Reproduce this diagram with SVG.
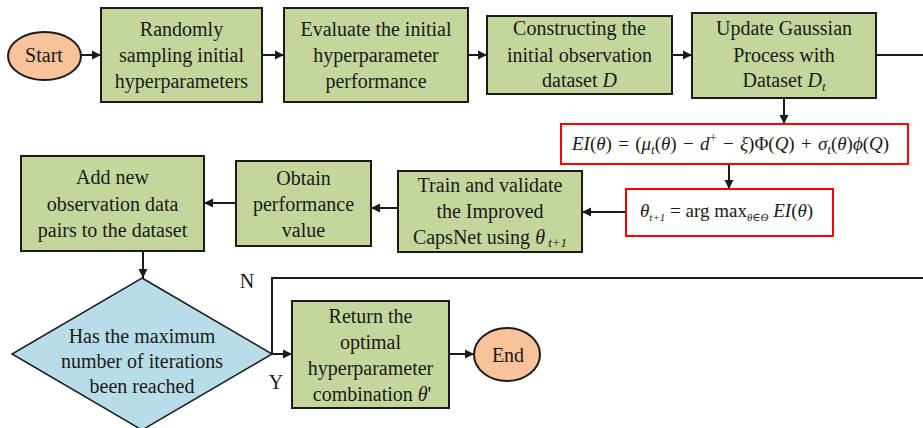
<svg xmlns="http://www.w3.org/2000/svg" width="923" height="428" viewBox="0 0 923 428">
  <style>
    text { font-family: "Liberation Serif", "DejaVu Serif", serif; font-size: 20px; fill: #1a1a1a; text-anchor: middle; }
    .box { fill: #c4d69c; stroke: #1a1a1a; stroke-width: 2; }
    .term { fill: #f8c39a; stroke: #1a1a1a; stroke-width: 2; }
    .dec { fill: #b8dde8; stroke: #1a1a1a; stroke-width: 1.5; }
    .eq { fill: #ffffff; stroke: #ff0000; stroke-width: 2; }
    .conn { fill: none; stroke: #1a1a1a; stroke-width: 2; }
    .arr { marker-end: url(#head); }
    .it { font-style: italic; }
    .sub { font-size: 13px; font-style: italic; }
    .small { font-size: 11px; font-style: italic; }
    .eqt { font-size: 19px; text-anchor: start; }
  </style>
  <defs>
    <marker id="head" markerUnits="userSpaceOnUse" markerWidth="10" markerHeight="10" refX="9" refY="5" orient="auto">
      <path d="M0,0.5 L9,5 L0,9.5 z" fill="#1a1a1a"/>
    </marker>
  </defs>

  <!-- connectors -->
  <g id="connectors">
    <path class="conn arr" d="M81,55 H101"/>
    <path class="conn arr" d="M262,55 H284"/>
    <path class="conn arr" d="M468,55 H487"/>
    <path class="conn arr" d="M672,55 H692"/>
    <path class="conn" d="M876,55 H923"/>
    <path class="conn arr" d="M784,98 V124"/>
    <path class="conn arr" d="M729,164 V189"/>
    <path class="conn arr" d="M626,212 H582"/>
    <path class="conn arr" d="M398,208 H371"/>
    <path class="conn arr" d="M236,203 H204"/>
    <path class="conn arr" d="M143,251 V278"/>
    <path class="conn" d="M272,354 V278 H923"/>
    <path class="conn arr" d="M272,354 H292"/>
    <path class="conn arr" d="M449,354 H474"/>
    <text x="247" y="288">N</text>
    <text x="276" y="389">Y</text>
  </g>

  <g id="start">
    <ellipse class="term" cx="44.5" cy="56" rx="36.5" ry="24"/>
    <text x="44" y="62">Start</text>
  </g>

  <g id="sample">
    <rect class="box" x="101" y="8" width="161" height="94"/>
    <text x="181.5" y="36">Randomly</text>
    <text x="181.5" y="62">sampling initial</text>
    <text x="181.5" y="88">hyperparameters</text>
  </g>

  <g id="evaluate">
    <rect class="box" x="284" y="8" width="184" height="94"/>
    <text x="376" y="36">Evaluate the initial</text>
    <text x="376" y="62">hyperparameter</text>
    <text x="376" y="88">performance</text>
  </g>

  <g id="construct">
    <rect class="box" x="487" y="16" width="185" height="78"/>
    <text x="579.5" y="35">Constructing the</text>
    <text x="579.5" y="62">initial observation</text>
    <text x="579.5" y="87">dataset <tspan class="it">D</tspan></text>
  </g>

  <g id="update">
    <rect class="box" x="692" y="13" width="184" height="85"/>
    <text x="784" y="35">Update Gaussian</text>
    <text x="784" y="62">Process with</text>
    <text x="784" y="87">Dataset <tspan class="it">D</tspan><tspan class="sub" dy="4">t</tspan></text>
  </g>

  <g id="ei">
    <rect class="eq" x="561" y="124" width="347" height="40"/>
    <text class="eqt" x="572" y="150" word-spacing="1.5"><tspan class="it">EI</tspan>(<tspan class="it">θ</tspan>) = (<tspan class="it">μ</tspan><tspan class="sub" dy="4">t</tspan><tspan dy="-4">(</tspan><tspan class="it">θ</tspan>) − <tspan class="it">d</tspan><tspan font-size="13" dy="-8">+</tspan><tspan dy="8"> − </tspan><tspan class="it">ξ</tspan>)Φ(<tspan class="it">Q</tspan>) + <tspan class="it">σ</tspan><tspan class="sub" dy="4">t</tspan><tspan dy="-4">(</tspan><tspan class="it">θ</tspan>)<tspan class="it">ϕ</tspan>(<tspan class="it">Q</tspan>)</text>
  </g>

  <g id="argmax">
    <rect class="eq" x="626" y="189" width="207" height="47"/>
    <text class="eqt" x="640" y="217"><tspan class="it">θ</tspan><tspan class="small" dy="4">t+1</tspan><tspan dy="-4"> = arg max</tspan><tspan class="small" dy="4">θ∈Θ</tspan><tspan dy="-4"> </tspan><tspan class="it">EI</tspan>(<tspan class="it">θ</tspan>)</text>
  </g>

  <g id="train">
    <rect class="box" x="398" y="171" width="184" height="81"/>
    <text x="490" y="192">Train and validate</text>
    <text x="490" y="218">the Improved</text>
    <text x="490" y="244">CapsNet using  <tspan class="it">θ</tspan><tspan class="sub" dy="3"> t+1</tspan></text>
  </g>

  <g id="obtain">
    <rect class="box" x="236" y="161" width="135" height="85"/>
    <text x="303.5" y="185">Obtain</text>
    <text x="303.5" y="211">performance</text>
    <text x="303.5" y="237">value</text>
  </g>

  <g id="add">
    <rect class="box" x="21" y="156" width="183" height="95"/>
    <text x="112.5" y="184">Add new</text>
    <text x="112.5" y="211">observation data</text>
    <text x="112.5" y="237">pairs to the dataset</text>
  </g>

  <g id="check">
    <polygon class="dec" points="142,278 272,354 142,430 12,354"/>
    <text x="142" y="343">Has the maximum</text>
    <text x="142" y="368">number of iterations</text>
    <text x="142" y="393">been reached</text>
  </g>

  <g id="result">
    <rect class="box" x="292" y="301" width="157" height="107"/>
    <text x="370.5" y="323">Return the</text>
    <text x="370.5" y="349">optimal</text>
    <text x="370.5" y="375">hyperparameter</text>
    <text x="372" y="401">combination <tspan class="it">θ</tspan>'</text>
  </g>

  <g id="end">
    <ellipse class="term" cx="507" cy="354.5" rx="33" ry="26.5"/>
    <text x="508" y="362">End</text>
  </g>
</svg>
